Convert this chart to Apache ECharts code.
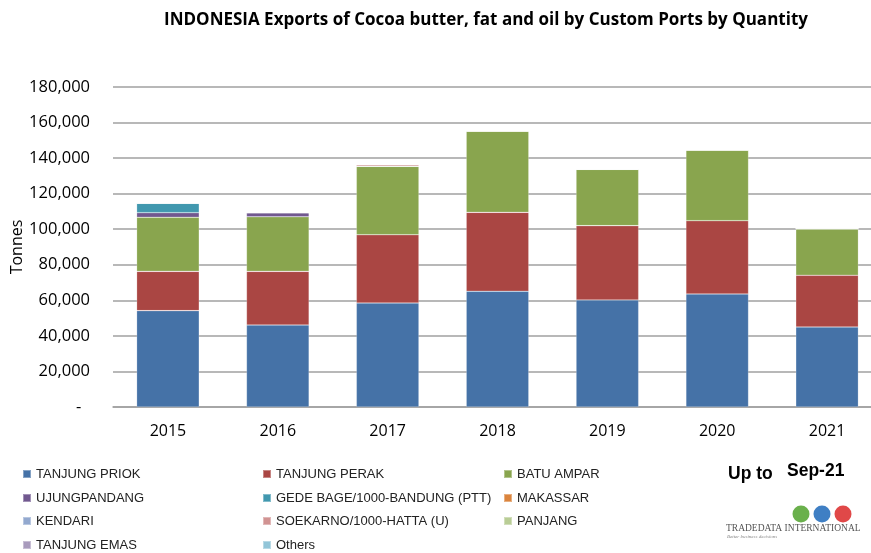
<!DOCTYPE html>
<html><head><meta charset="utf-8">
<script src="https://cdn.jsdelivr.net/npm/echarts@6/dist/echarts.min.js"></script>
<style>html,body{margin:0;padding:0;background:#fff}#c{width:871px;height:553px}</style>
</head><body><div id="c"></div>
<script>
var years = ['2015','2016','2017','2018','2019','2020','2021'];
var tanjungPriok   = [54200, 46100, 58500, 65100, 60200, 63600, 45000];
var tanjungPerak   = [22100, 30200, 38400, 44400, 41800, 41200, 29100];
var batuAmpar      = [30400, 30700, 38500, 45750, 31700, 39800, 26200];
var ujungpandang   = [2600, 2300, 0, 0, 0, 0, 0];
var gedeBage       = [5300, 0, 0, 0, 0, 0, 0];
var makassar       = [0, 0, 0, 0, 0, 0, 0];
var kendari        = [0, 0, 0, 0, 0, 0, 0];
var soekarnoHatta  = [0, 0, 900, 0, 0, 0, 0];
var panjang        = [0, 0, 0, 0, 0, 0, 0];
var tanjungEmas    = [0, 300, 0, 0, 0, 0, 0];
var others         = [0, 0, 0, 0, 0, 0, 0];

var seriesDefs = [
  ['TANJUNG PRIOK', tanjungPriok, '#4572A7'],
  ['TANJUNG PERAK', tanjungPerak, '#AA4643'],
  ['BATU AMPAR', batuAmpar, '#89A54E'],
  ['UJUNGPANDANG', ujungpandang, '#71588F'],
  ['GEDE BAGE/1000-BANDUNG (PTT)', gedeBage, '#4198AF'],
  ['MAKASSAR', makassar, '#DB843D'],
  ['KENDARI', kendari, '#93A9CF'],
  ['SOEKARNO/1000-HATTA (U)', soekarnoHatta, '#D19392'],
  ['PANJANG', panjang, '#B9CD96'],
  ['TANJUNG EMAS', tanjungEmas, '#A99BBD'],
  ['Others', others, '#92C5D8']
];

var chart = echarts.init(document.getElementById('c'), null, {renderer:'canvas'});
var series = seriesDefs.map(function(d){
  return {name:d[0], type:'bar', stack:'t', data:d[1], barWidth:'57%',
    itemStyle:{color:d[2], borderColor:'rgba(255,255,255,0.35)', borderWidth:0.6}};
});
var colX = [22, 262, 503];
var rowY = [474, 498, 521, 545];
var legends = seriesDefs.map(function(d, i){
  return {data:[d[0]], orient:'horizontal', left:colX[i % 3], top:rowY[Math.floor(i / 3)] - 8,
    padding:0, itemWidth:8, itemHeight:8, icon:'rect', selectedMode:false,
    textStyle:{fontFamily:'Liberation Sans', fontSize:13, lineHeight:16, color:'#222'}};
});
chart.setOption({
  animation:false,
  title:{text:'INDONESIA Exports of Cocoa butter, fat and oil by Custom Ports by Quantity',
    left:481, textAlign:'center', top:7,
    textStyle:{fontFamily:'Open Sans', fontSize:17, fontWeight:'bold', color:'#000'}},
  grid:{left:113, right:-11, top:87, bottom:146, containLabel:false, outerBoundsMode:'none'},
  legend:legends,
  xAxis:{type:'category', data:years,
    axisLine:{lineStyle:{color:'#a0a0a0', width:1.5}}, axisTick:{show:false},
    axisLabel:{fontFamily:'Open Sans', fontSize:16, color:'#000', margin:16}},
  yAxis:{type:'value', min:0, max:180000, interval:20000,
    name:'Tonnes', nameLocation:'middle', nameGap:88, nameRotate:90, nameMoveOverlap:false,
    nameTextStyle:{fontFamily:'Open Sans', fontSize:16, color:'#000'},
    axisLine:{show:false}, axisTick:{show:false},
    splitLine:{lineStyle:{color:'#a0a0a0', width:1.5}},
    axisLabel:{fontFamily:'Open Sans', fontSize:16.5, color:'#000', margin:23,
      formatter:function(v){ return v===0 ? '-  ' : v.toLocaleString('en-US'); }}},
  graphic:[
    {type:'text', left:728, top:465, style:{text:'Up to', font:'bold 17.5px Liberation Sans', fill:'#000'}},
    {type:'text', left:787, top:462, style:{text:'Sep-21', font:'bold 17.5px Liberation Sans', fill:'#000'}},
    {type:'circle', shape:{cx:801, cy:514, r:8.5}, style:{fill:'#6ab04c'}},
    {type:'circle', shape:{cx:822, cy:514, r:8.5}, style:{fill:'#3f7fc4'}},
    {type:'circle', shape:{cx:843, cy:514, r:8.5}, style:{fill:'#e04848'}},
    {type:'text', left:726, top:523, style:{text:'TRADEDATA INTERNATIONAL', font:'9.5px Liberation Serif', fill:'#555'}},
    {type:'text', left:727, top:534, style:{text:'Better business decisions', font:'italic 5px Liberation Serif', fill:'#888'}}
  ],
  series:series
});
</script></body></html>
